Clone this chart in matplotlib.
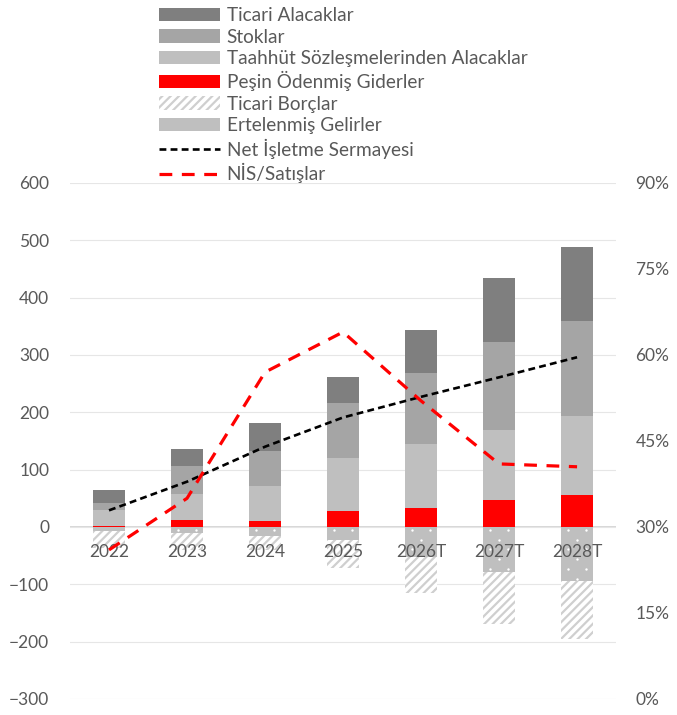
import matplotlib
matplotlib.use("Agg")
import matplotlib.pyplot as plt
from matplotlib.patches import Patch
from matplotlib.lines import Line2D
from matplotlib.ticker import PercentFormatter
import numpy as np

plt.rcParams['font.family'] = ['Lato', 'DejaVu Sans']
plt.rcParams['hatch.linewidth'] = 1.6

years = ['2022', '2023', '2024', '2025', '2026T', '2027T', '2028T']

# positive side (milyon TL)
pesin = [2, 13, 10, 27, 33, 47, 55]
taahhut = [28, 45, 61, 93, 111, 123, 138]
stoklar = [11, 49, 61, 97, 125, 153, 166]
ticari_alacak = [24, 29, 50, 45, 75, 112, 130]

# negative side
ertelenmis = [-7.5, -10, -16, -23.5, -53, -79, -95]
ticari_borc = [-30, -30, -24, -48, -63, -90, -100]

nis = [29, 79, 140, 191, 227, 261, 296]
nis_satis = [26, 35, 57, 64, 52, 41, 40.5]

txt = '#595959'
x = np.arange(len(years))
w = 0.4

fig = plt.figure(figsize=(6.77, 7.15), dpi=100)
ax = fig.add_axes([0.1034, 0.0224, 0.8066, 0.7217])

bottom = np.zeros(len(years))
for vals, col in [(pesin, '#ff0000'), (taahhut, '#bfbfbf'),
                  (stoklar, '#a5a5a5'), (ticari_alacak, '#7f7f7f')]:
    ax.bar(x, vals, w, bottom=bottom, color=col, zorder=2)
    bottom += np.array(vals)

ax.bar(x, ertelenmis, w, color='#bfbfbf', linewidth=0, zorder=2)
ax.bar(x, ticari_borc, w, bottom=ertelenmis, color='white', edgecolor='#cfcfcf',
       hatch='////', linewidth=0, zorder=2)

# small white dot texture on the deferred income bars
for xi, e in zip(x, ertelenmis):
    row = 0
    yy = -5.0
    while yy > e + 3:
        offs = [-0.12, 0.12] if row % 2 == 0 else [0.0]
        for o in offs:
            ax.scatter(xi + o, yy, s=3, color='white', zorder=3, linewidths=0)
        yy -= 17
        row += 1

ax.plot(x, nis, color='black', lw=1.9, linestyle=(0, (2.6, 1.6)), zorder=4)

ax.set_xlim(-0.5, 6.5)
ax.set_ylim(-300, 600)
ax.set_yticks(range(-300, 601, 100))
ax.grid(axis='y', color='#e6e6e6', lw=0.8, zorder=0)
ax.axhline(0, color='#d4d4d4', lw=1.3, zorder=1)
for s in ax.spines.values():
    s.set_visible(False)
ax.spines['bottom'].set_position(('data', 0))
ax.set_xticks(x)
ax.set_xticklabels(years)
ax.tick_params(axis='x', length=0, pad=12, labelsize=12.5, labelcolor=txt)
ax.tick_params(axis='y', length=0, pad=15, labelsize=12.5, labelcolor=txt)
ax.xaxis.set_zorder(10)

ax2 = ax.twinx()
ax2.plot(x, nis_satis, color='#ff0000', lw=2.3, linestyle=(0, (4, 3)), zorder=4)
ax2.set_ylim(0, 90)
ax2.set_yticks(range(0, 91, 15))
ax2.yaxis.set_major_formatter(PercentFormatter(decimals=0))
ax2.tick_params(axis='y', length=0, pad=14, labelsize=12.5, labelcolor=txt)
for s in ax2.spines.values():
    s.set_visible(False)

handles = [
    Patch(facecolor='#7f7f7f', label='Ticari Alacaklar'),
    Patch(facecolor='#a5a5a5', label='Stoklar'),
    Patch(facecolor='#bfbfbf', label='Taahhüt Sözleşmelerinden Alacaklar'),
    Patch(facecolor='#ff0000', label='Peşin Ödenmiş Giderler'),
    Patch(facecolor='white', edgecolor='#cfcfcf', hatch='////', linewidth=0, label='Ticari Borçlar'),
    Patch(facecolor='#bfbfbf', linewidth=0, label='Ertelenmiş Gelirler'),
    Line2D([], [], color='black', lw=1.9, linestyle=(0, (2.6, 1.6)), label='Net İşletme Sermayesi'),
    Line2D([], [], color='#ff0000', lw=2.3, linestyle=(0, (4, 3)), label='NİS/Satışlar'),
]
leg = fig.legend(handles=handles, loc='upper left', bbox_to_anchor=(0.218, 1.006),
                 frameon=False, fontsize=13.7, handlelength=3.2, handleheight=0.7,
                 handletextpad=0.35, labelspacing=0.23, borderpad=0.1)
for t in leg.get_texts():
    t.set_color(txt)

fig.savefig('out.png', dpi=100)
